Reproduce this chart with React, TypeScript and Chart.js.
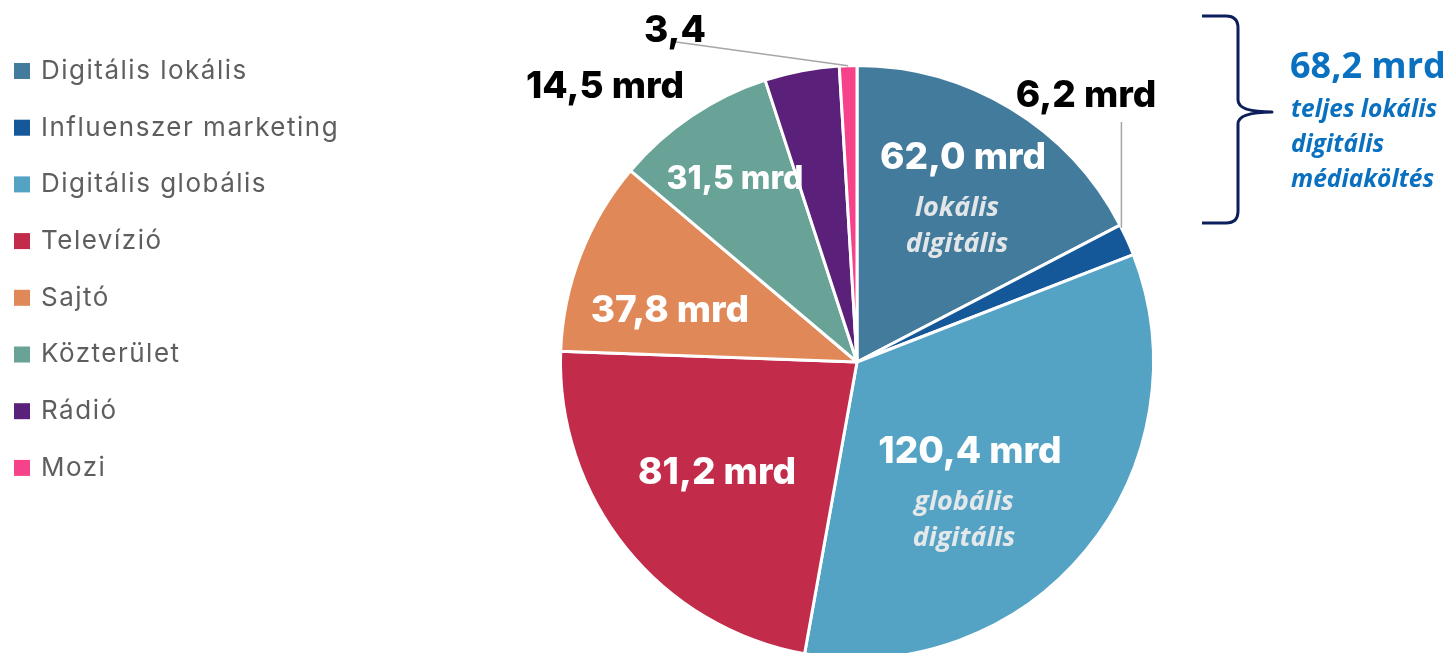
import React, { useEffect, useRef } from "react";
import { Chart, registerables } from "chart.js";

Chart.register(...registerables);

// Media spend categories (billion HUF)
const categories = [
  "Digitális lokális",
  "Influenszer marketing",
  "Digitális globális",
  "Televízió",
  "Sajtó",
  "Közterület",
  "Rádió",
  "Mozi",
];
const spend = [62.0, 6.2, 120.4, 81.2, 37.8, 31.5, 14.5, 3.4];
const sliceColors = [
  "#437b9c",
  "#14589a",
  "#54a3c5",
  "#c22b4a",
  "#e08857",
  "#69a397",
  "#5b2079",
  "#f5428a",
];
const unit = "mrd";
const subLabels: Record<number, string[]> = {
  0: ["lokális", "digitális"],
  2: ["globális", "digitális"],
};
const localDigitalIdx = [0, 1];
const totalNote = ["teljes lokális", "digitális", "médiaköltés"];

const fmt = (v: number) => v.toFixed(1).replace(".", ",");

// Label placement relative to pie centre (px), text colour and size
const labelStyle = [
  { dx: 106, dy: -204, color: "#ffffff", size: 37 },
  { dx: 229, dy: -266, color: "#000000", size: 37 },
  { dx: 113, dy: 90, color: "#ffffff", size: 37 },
  { dx: -140, dy: 111, color: "#ffffff", size: 37 },
  { dx: -187, dy: -51, color: "#ffffff", size: 37 },
  { dx: -122, dy: -183, color: "#ffffff", size: 32 },
  { dx: -252, dy: -275, color: "#000000", size: 37 },
  { dx: -182, dy: -331, color: "#000000", size: 37 },
];

const NUM_FONT = "Inter, 'Noto Sans', sans-serif";
const NOTE_FONT = "'Open Sans', 'Noto Sans', sans-serif";

const annotationPlugin = {
  id: "pieAnnotations",
  afterDatasetsDraw(chart: any) {
    const ctx: any = chart.ctx;
    const meta = chart.getDatasetMeta(0);
    const first = meta.data[0];
    const cx = first.x;
    const cy = first.y;
    const r = first.outerRadius;

    ctx.save();

    // legend
    const legendX = 14;
    const legendY0 = 70;
    const legendStep = 56.7;
    ctx.textBaseline = "middle";
    ctx.textAlign = "left";
    categories.forEach((name, i) => {
      const y = legendY0 + i * legendStep;
      ctx.filter = "blur(0.4px)";
      ctx.fillStyle = sliceColors[i];
      ctx.fillRect(legendX, y - 7, 16, 16);
      ctx.font = `400 26px Inter, 'Noto Sans', sans-serif`;
      ctx.letterSpacing = "1.5px";
      ctx.fillStyle = "#5e5e5e";
      ctx.fillText(name, legendX + 27, y + 1);
    });
    ctx.filter = "none";
    ctx.letterSpacing = "0px";

    // leader lines
    ctx.strokeStyle = "#a6a6a6";
    ctx.lineWidth = 1.5;
    // 6,2 mrd: vertical line from the slice edge up to its label
    const inf = meta.data[1];
    const aInf = inf.startAngle + 0.01;
    const ix = cx + r * Math.cos(aInf);
    const iy = cy + r * Math.sin(aInf);
    ctx.beginPath();
    ctx.moveTo(ix, iy);
    ctx.lineTo(ix, cy - 240);
    ctx.stroke();
    // 3,4: line from the middle of the slice rim to its label
    const mozi = meta.data[7];
    const aMozi = (mozi.startAngle + mozi.endAngle) / 2;
    ctx.beginPath();
    ctx.moveTo(cx + r * Math.cos(aMozi), cy + r * Math.sin(aMozi));
    ctx.lineTo(cx - 181, cy - 320);
    ctx.stroke();

    // value labels
    ctx.textAlign = "center";
    ctx.textBaseline = "middle";
    spend.forEach((v, i) => {
      const s = labelStyle[i];
      const text = i === 7 ? fmt(v) : `${fmt(v)} ${unit}`;
      ctx.font = `800 ${s.size}px ${NUM_FONT}`;
      ctx.fillStyle = s.color;
      ctx.fillText(text, cx + s.dx, cy + s.dy);
      const sub = subLabels[i];
      if (sub) {
        ctx.font = `italic 700 27px ${NOTE_FONT}`;
        ctx.fillStyle = "rgba(236,236,236,0.95)";
        sub.forEach((t, k) => {
          ctx.fillText(t, cx + s.dx - 6, cy + s.dy + 50 + k * 36);
        });
      }
    });

    // curly brace around the local digital total
    ctx.strokeStyle = "#0c1f5c";
    ctx.lineWidth = 3;
    ctx.lineJoin = "round";
    const bx = 1202;
    const top = 16;
    const bot = 223;
    const mid = 112;
    const vx = 1238;
    const tip = 1272;
    ctx.beginPath();
    ctx.moveTo(bx, top);
    ctx.lineTo(vx - 12, top);
    ctx.quadraticCurveTo(vx, top, vx, top + 12);
    ctx.lineTo(vx, mid - 12);
    ctx.quadraticCurveTo(vx, mid, tip, mid);
    ctx.quadraticCurveTo(vx, mid, vx, mid + 12);
    ctx.lineTo(vx, bot - 12);
    ctx.quadraticCurveTo(vx, bot, vx - 12, bot);
    ctx.lineTo(bx, bot);
    ctx.stroke();

    // total note
    const localTotal = localDigitalIdx.reduce((a, i) => a + spend[i], 0);
    ctx.textAlign = "left";
    ctx.fillStyle = "#0a70c0";
    ctx.font = `700 36px ${NOTE_FONT}`;
    ctx.fillText(`${fmt(localTotal)} ${unit}`, 1290, 68);
    ctx.font = `italic 700 24.5px ${NOTE_FONT}`;
    totalNote.forEach((t, k) => {
      ctx.fillText(t, 1291, 110 + k * 35);
    });

    ctx.restore();
  },
};

export default function App() {
  const canvasRef = useRef<HTMLCanvasElement | null>(null);

  useEffect(() => {
    document.body.style.margin = "0";
    document.body.style.overflow = "hidden";
    const canvas = canvasRef.current;
    if (!canvas) return;
    const chart = new Chart(canvas, {
      type: "pie",
      data: {
        labels: categories,
        datasets: [
          {
            data: spend,
            backgroundColor: sliceColors,
            borderColor: "#ffffff",
            borderWidth: 3,
          },
        ],
      },
      options: {
        responsive: false,
        animation: false,
        devicePixelRatio: 1,
        layout: { padding: { left: 559, right: 298, top: 64, bottom: 60 } },
        plugins: {
          legend: { display: false },
          tooltip: { enabled: false },
        },
      },
      plugins: [annotationPlugin],
    });
    return () => chart.destroy();
  }, []);

  return (
    <div
      style={{
        position: "absolute",
        left: 0,
        top: 0,
        width: 1453,
        height: 653,
        overflow: "hidden",
        background: "#ffffff",
      }}
    >
      <canvas ref={canvasRef} width={1453} height={720} style={{ display: "block" }} />
    </div>
  );
}
